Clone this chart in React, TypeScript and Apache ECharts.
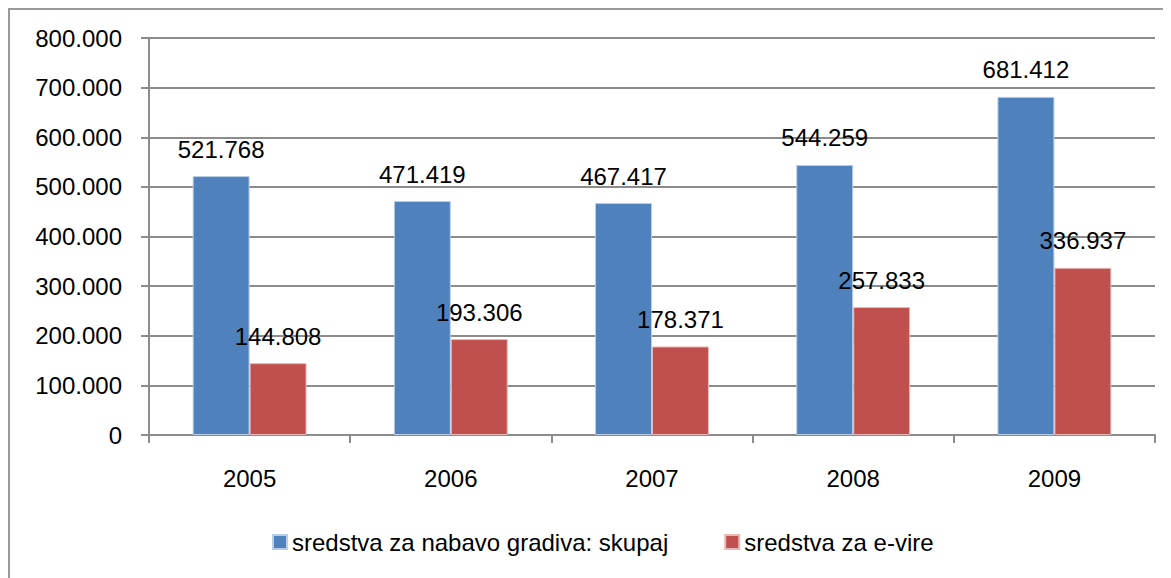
import React, { useEffect, useRef } from "react";
import * as echarts from "echarts";

const years = ["2005", "2006", "2007", "2008", "2009"];
const totalFunds = [521768, 471419, 467417, 544259, 681412];
const eFunds = [144808, 193306, 178371, 257833, 336937];
const seriesNames = ["sredstva za nabavo gradiva: skupaj", "sredstva za e-vire"];

const fmt = (v: number) => {
  if (v === 0) return "0";
  const s = Math.round(v).toString();
  return s.replace(/\B(?=(\d{3})+(?!\d))/g, ".");
};

const FONT = "'Liberation Sans', Arial, sans-serif";

export default function App() {
  const ref = useRef<HTMLDivElement>(null);
  useEffect(() => {
    if (!ref.current) return;
    const chart = echarts.init(ref.current, undefined, { renderer: "svg" });
    const labelStyle = {
      show: true,
      position: "top" as const,
      distance: 15,
      color: "#000",
      fontSize: 24,
      fontFamily: FONT,
      formatter: (p: any) => fmt(p.value),
    };
    chart.setOption({
      animation: false,
      backgroundColor: "#fff",
      graphic: [
        {
          type: "rect",
          shape: { x: 1, y: 1, width: 1200, height: 620 },
          style: { fill: "none", stroke: "#9a9a9a", lineWidth: 2 },
          silent: true,
          z: 100,
        },
      ],
      grid: { left: 141, right: 16, top: 30, bottom: 143 },
      legend: {
        bottom: 19,
        left: 259,
        itemWidth: 14,
        itemHeight: 14,
        itemGap: 56,
        icon: "rect",
        textStyle: { fontSize: 24, color: "#000", fontFamily: FONT },
        data: seriesNames,
      },
      xAxis: {
        type: "category",
        data: years,
        axisLine: { show: true, lineStyle: { color: "#8c8c8c", width: 2 } },
        axisTick: { show: true, length: 8, lineStyle: { color: "#8c8c8c", width: 2 } },
        axisLabel: { color: "#000", fontSize: 24, fontFamily: FONT, margin: 31 },
      },
      yAxis: {
        type: "value",
        min: 0,
        max: 800000,
        interval: 100000,
        axisLine: { show: true, lineStyle: { color: "#8c8c8c", width: 2 } },
        axisTick: { show: true, length: 8, lineStyle: { color: "#8c8c8c", width: 2 } },
        splitLine: { show: true, lineStyle: { color: "#8c8c8c", width: 2 } },
        axisLabel: {
          color: "#000",
          fontSize: 24,
          fontFamily: FONT,
          margin: 27,
          formatter: (v: number) => fmt(v),
        },
      },
      series: [
        {
          name: seriesNames[0],
          type: "bar",
          data: totalFunds,
          barWidth: "28.3%",
          barGap: "0%",
          itemStyle: { color: "#4F81BD", borderColor: "#b9cde5", borderWidth: 1 },
          label: labelStyle,
        },
        {
          name: seriesNames[1],
          type: "bar",
          data: eFunds,
          barWidth: "28.3%",
          barGap: "0%",
          itemStyle: { color: "#C0504D", borderColor: "#e6b9b8", borderWidth: 1 },
          label: labelStyle,
        },
      ],
    });
    return () => chart.dispose();
  }, []);
  return <div ref={ref} style={{ width: 1163, height: 570 }} />;
}
